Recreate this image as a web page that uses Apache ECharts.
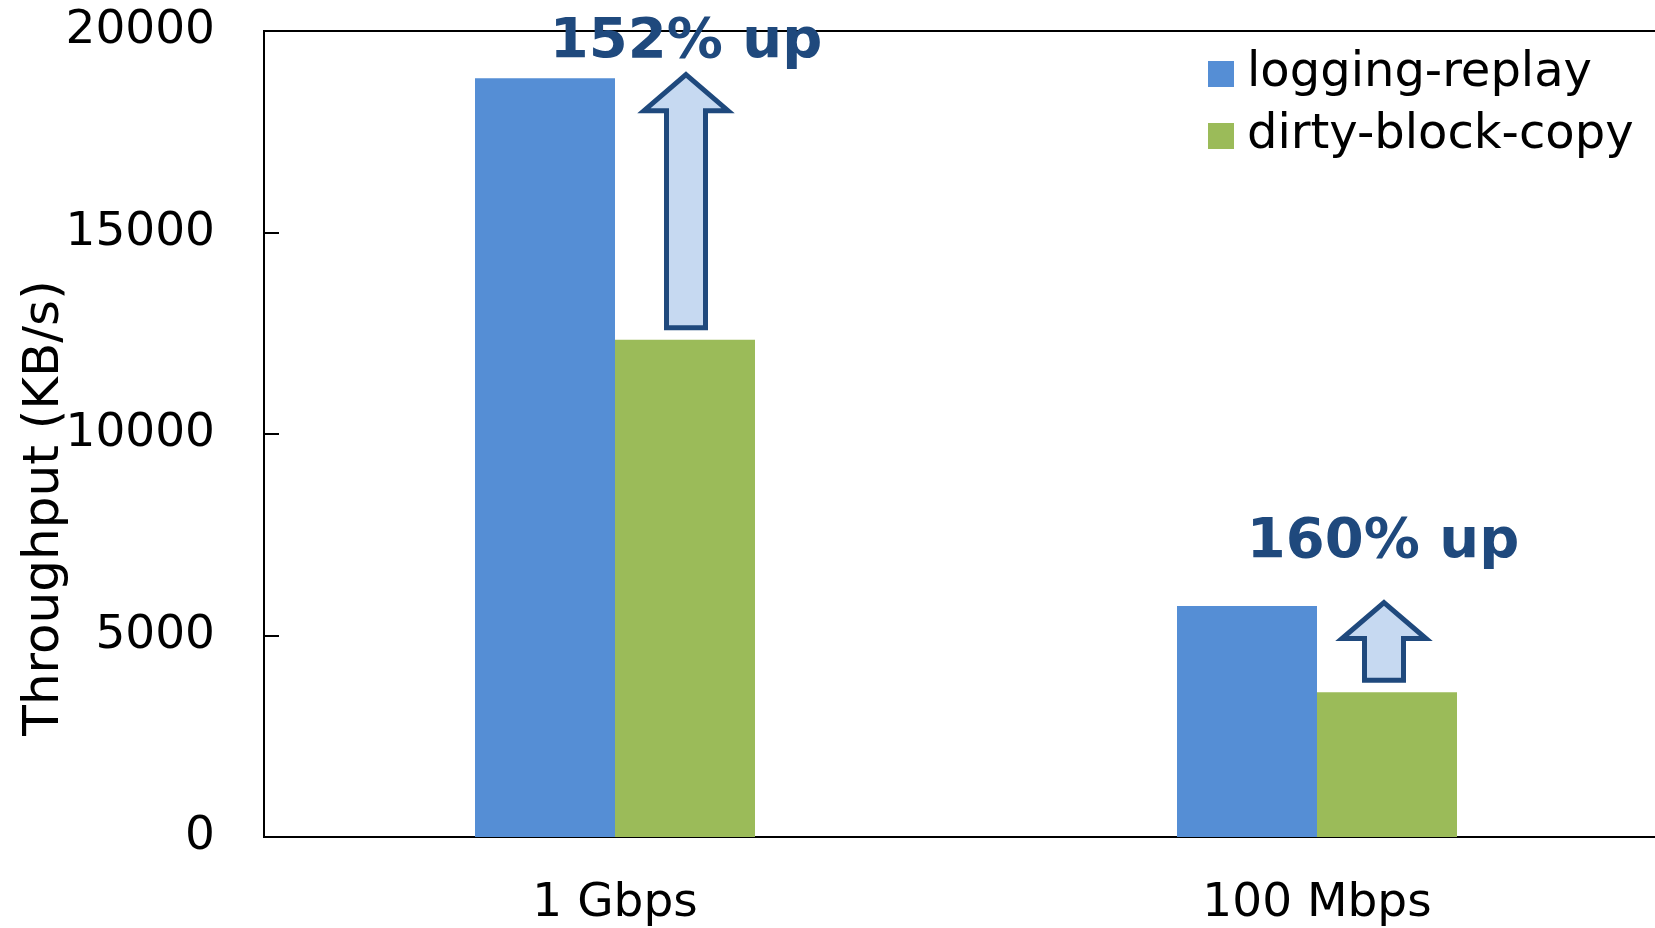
<!DOCTYPE html>
<html>
<head>
<meta charset="utf-8">
<script src="https://cdn.jsdelivr.net/npm/echarts@6/dist/echarts.min.js"></script>
<style>
html,body{margin:0;padding:0;background:#fff;}
#chart{width:1655px;height:928px;}
</style>
</head>
<body>
<div id="chart"></div>
<script>
const categories = ['1 Gbps', '100 Mbps'];
const seriesNames = ['logging-replay', 'dirty-block-copy'];
const loggingReplay = [18830, 5730];
const dirtyBlockCopy = [12340, 3590];
const gainLabels = ['152% up', '160% up'];
const yTicks = [0, 5000, 10000, 15000, 20000];
const yAxisTitle = 'Throughput (KB/s)';

const FONT = 'DejaVu Sans';
const BLUE = '#558ED5';
const GREEN = '#9BBB59';
const DARK = '#1F497D';
const ARROW_FILL = '#C6D9F1';
const BAR_W = 140;
// annotation layout (pixel offsets)
const labelDy = [-32, -60];
const labelDx = [1, -4];
const arrowDx = [1, -3];

const chart = echarts.init(document.getElementById('chart'));

const arrowData = categories.map((c, i) => [i, dirtyBlockCopy[i], loggingReplay[i], i]);

chart.setOption({
  animation: false,
  backgroundColor: '#fff',
  textStyle: { fontFamily: FONT },
  grid: {
    left: 264, top: 31, width: 1404, bottom: 91,
    outerBoundsMode: 'none', containLabel: false,
    show: true, borderColor: '#000', borderWidth: 2, backgroundColor: 'transparent'
  },
  legend: {
    data: seriesNames,
    orient: 'vertical',
    left: 1208, top: 50, padding: 0,
    itemWidth: 26, itemHeight: 26, itemGap: 14,
    icon: 'rect',
    textStyle: { fontFamily: FONT, fontSize: 48, color: '#000', lineHeight: 48, padding: [0, 0, 0, 8] }
  },
  xAxis: {
    type: 'category',
    data: categories,
    axisLine: { show: true, lineStyle: { color: '#000', width: 2 } },
    axisTick: { show: false },
    axisLabel: { fontFamily: FONT, fontSize: 47, color: '#000', margin: 43 },
    splitLine: { show: false }
  },
  yAxis: {
    type: 'value',
    min: yTicks[0], max: yTicks[yTicks.length - 1], interval: yTicks[1] - yTicks[0],
    axisLine: { show: true, lineStyle: { color: '#000', width: 2 } },
    axisTick: { show: true, inside: true, length: 15, lineStyle: { color: '#000', width: 2 } },
    axisLabel: {
      fontFamily: FONT, fontSize: 47, color: '#000', margin: 49,
      formatter: function (v) { return String(v); }
    },
    splitLine: { show: false }
  },
  graphic: [{
    type: 'text',
    x: 45, y: 508,
    rotation: Math.PI / 2,
    style: {
      text: yAxisTitle, fontFamily: FONT, fontSize: 50, fill: '#000',
      textAlign: 'center', textVerticalAlign: 'middle'
    }
  }],
  series: [
    {
      name: seriesNames[0], type: 'bar', data: loggingReplay,
      barWidth: BAR_W, barGap: '0%', itemStyle: { color: BLUE }
    },
    {
      name: seriesNames[1], type: 'bar', data: dirtyBlockCopy,
      barWidth: BAR_W, barGap: '0%', itemStyle: { color: GREEN }
    },
    {
      type: 'custom',
      data: arrowData,
      z: 10,
      silent: true,
      renderItem: function (params, api) {
        const cat = api.value(0);
        const idx = api.value(3);
        const cx = api.coord([cat, 0])[0] + BAR_W / 2;
        const x = cx + arrowDx[idx];
        const yTop = api.coord([cat, api.value(2)])[1] - 3.5;
        const yBot = api.coord([cat, api.value(1)])[1] - 12;
        const hw = 42, sw = 19.5, hh = 36;
        const pts = [
          [x, yTop], [x + hw, yTop + hh], [x + sw, yTop + hh], [x + sw, yBot],
          [x - sw, yBot], [x - sw, yTop + hh], [x - hw, yTop + hh]
        ];
        return {
          type: 'group',
          children: [
            {
              type: 'polygon',
              shape: { points: pts },
              style: { fill: ARROW_FILL, stroke: DARK, lineWidth: 5, lineJoin: 'miter' }
            },
            {
              type: 'text',
              x: cx + labelDx[idx], y: yTop + labelDy[idx],
              style: {
                text: gainLabels[idx], fontFamily: FONT, fontWeight: 'bold', fontSize: 56,
                fill: DARK, textAlign: 'center', textVerticalAlign: 'middle'
              }
            }
          ]
        };
      }
    }
  ]
});
</script>
</body>
</html>
